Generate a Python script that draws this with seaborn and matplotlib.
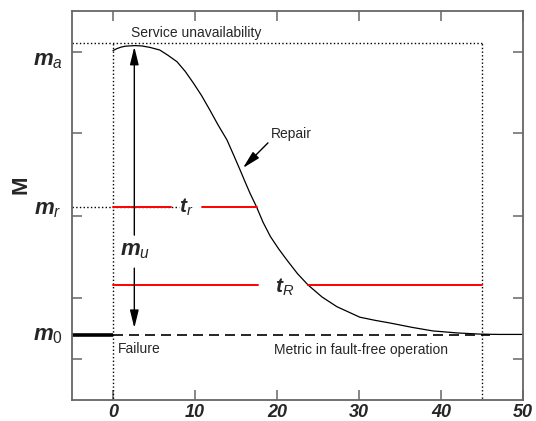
import matplotlib
matplotlib.use("Agg")
import matplotlib.pyplot as plt
import seaborn as sns
import pandas as pd

# metric after a failure at t = 0
time = [0.0, 0.5, 1.0, 1.5, 2.0, 2.7, 3.5, 4.5, 5.7, 6.7, 7.8, 8.8, 9.8, 10.8,
        11.8, 12.8, 13.9, 14.7, 15.5, 16.1, 16.7, 17.5, 18.3, 19.2, 20.2, 21.2,
        22.5, 23.8, 25.5, 27.3, 30.1, 32.0, 33.8, 36.5, 39.0, 42.0, 44.8, 47.0,
        50.0]
metric = [0.974, 0.981, 0.986, 0.989, 0.990, 0.991, 0.990, 0.985, 0.976, 0.958,
          0.936, 0.903, 0.863, 0.820, 0.771, 0.720, 0.668, 0.617, 0.565, 0.525,
          0.486, 0.439, 0.386, 0.337, 0.295, 0.257, 0.210, 0.171, 0.130, 0.097,
          0.061, 0.050, 0.041, 0.026, 0.014, 0.007, 0.003, 0.002, 0.002]

# reference levels and times
m0 = 0.0
m_r = 0.439
m_a = 1.0
t_R_level = 0.171
t_fail = 0.0
t_end = 45.0
t_r_segments = [(0.0, 7.1), (10.8, 17.5)]
t_R_segments = [(0.0, 17.7), (23.8, 45.0)]

xticks = [0, 10, 20, 30, 40, 50]
yticks = [0.969, 0.692, 0.408, 0.127, -0.082]

df = pd.DataFrame({"t": time, "M": metric})

sns.set_style("ticks")
plt.rcParams["font.family"] = ["Liberation Sans", "DejaVu Sans"]
plt.rcParams["mathtext.fontset"] = "custom"
plt.rcParams["mathtext.rm"] = "Liberation Sans"
plt.rcParams["mathtext.it"] = "Liberation Sans:italic"
plt.rcParams["mathtext.bf"] = "Liberation Sans:italic:bold"

fig = plt.figure(figsize=(5.36, 4.21), dpi=100)
ax = fig.add_axes([72/536, 21/421, 451/536, 389/421])

sns.lineplot(data=df, x="t", y="M", color="black", lw=0.9, ax=ax)

# reference lines
ax.plot([-5, t_fail], [m0, m0], color="black", lw=2.6, solid_capstyle="butt")
ax.plot([t_fail, 46], [m0, m0], color="black", lw=1.2, dashes=(6, 3.6))
ax.plot([-5, t_end], [m_a, m_a], color="black", lw=1, ls=":")
ax.plot([-5, 8], [m_r, m_r], color="black", lw=1, ls=":")
ax.plot([t_fail, t_fail], [-0.23, m_a], color="black", lw=1, ls=":")
ax.plot([t_end, t_end], [-0.23, m_a], color="black", lw=1, ls=":")

for a, b in t_r_segments:
    ax.plot([a, b], [m_r, m_r], color="red", lw=1.4)
for a, b in t_R_segments:
    ax.plot([a, b], [t_R_level, t_R_level], color="red", lw=1.4)

# m_u double arrow with a gap for the label
arr = dict(arrowstyle="-|>,head_width=0.22,head_length=0.9", color="black",
           lw=1, shrinkA=0, shrinkB=0, mutation_scale=12)
ax.annotate("", xy=(2.6, 0.987), xytext=(2.6, 0.342), arrowprops=arr)
ax.annotate("", xy=(2.6, 0.024), xytext=(2.6, 0.229), arrowprops=arr)
ax.text(2.7, 0.29, r"$\mathbf{m}_u$", fontsize=16, ha="center", va="center")

ax.text(8.9, 0.418, r"$\mathbf{t}_r$", fontsize=15, ha="center", va="baseline")
ax.text(20.9, 0.144, r"$\mathbf{t}_R$", fontsize=15, ha="center", va="baseline")

ax.annotate("", xy=(15.85, 0.572), xytext=(18.9, 0.658), arrowprops=arr)
ax.text(21.7, 0.69, "Repair", fontsize=10, ha="center", va="center")

ax.text(10.1, 1.034, "Service unavailability", fontsize=10, ha="center", va="center")
ax.text(0.6, -0.048, "Failure", fontsize=10, ha="left", va="center")
ax.text(19.6, -0.051, "Metric in fault-free operation", fontsize=10, ha="left", va="center")

# level labels left of the axes
for txt, yb in [(r"$\mathbf{m}_a$", 0.925), (r"$\mathbf{m}_r$", 0.414),
                (r"$\mathbf{m}_\mathit{0}$", -0.02)]:
    ax.text(-7.9, yb, txt, fontsize=16, ha="center", va="baseline", clip_on=False)

fig.text(21/536, 1 - 185/421, "M", fontsize=16, fontweight="bold",
         rotation=90, ha="center", va="center")

ax.set_xlim(-5, 50)
ax.set_ylim(-0.2226, 1.1096)
ax.set_xticks(xticks)
ax.set_yticks(yticks)
ax.set_xticklabels([str(v) for v in xticks], fontsize=13, fontweight="bold",
                   fontstyle="italic")
ax.tick_params(axis="both", direction="in", length=7, width=1.1, color="#666666",
               top=True, right=True, pad=3)
ax.tick_params(axis="y", labelleft=False)
ax.set_xlabel("")
ax.set_ylabel("")
for s in ax.spines.values():
    s.set_color("#666666")
    s.set_linewidth(1.3)

fig.savefig("out.png", dpi=100)
